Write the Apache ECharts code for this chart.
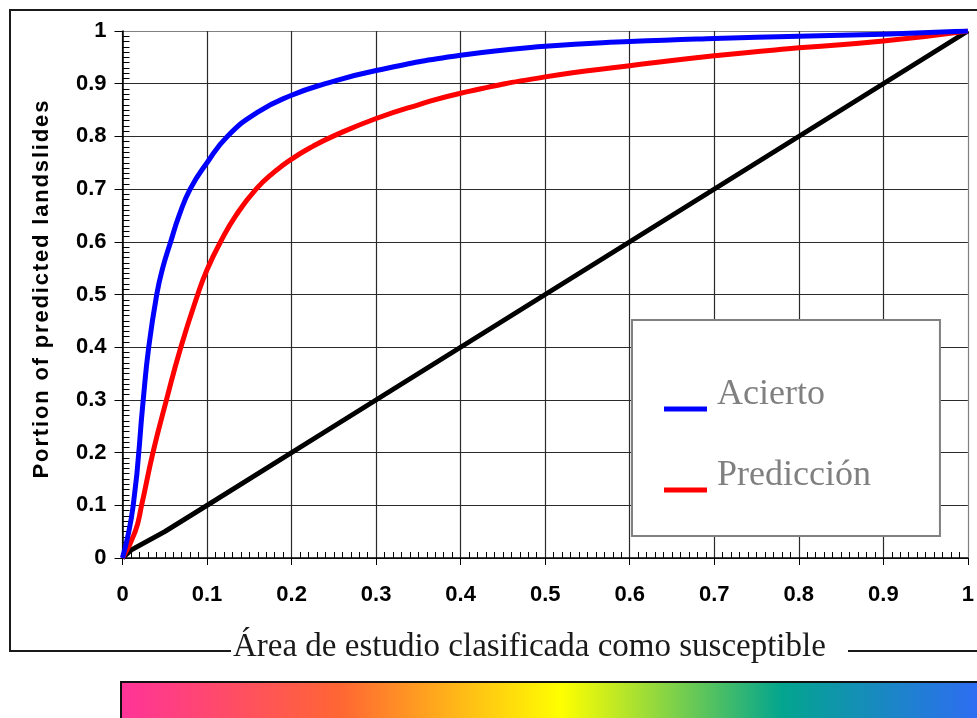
<!DOCTYPE html>
<html>
<head>
<meta charset="utf-8">
<script src="https://cdn.jsdelivr.net/npm/echarts@6/dist/echarts.min.js"></script>
<style>
  html, body { margin: 0; padding: 0; background: #fff; }
  #chart { width: 977px; height: 718px; }
</style>
</head>
<body>
<div id="chart"></div>
<script>
var myChart = echarts.init(document.getElementById('chart'));
var option;

// success curve (Acierto)
var aciertoData = [
    [0, 0], [0.0127, 0.1], [0.0245, 0.3], [0.031, 0.4], [0.0405, 0.5],
    [0.0475, 0.55], [0.057, 0.6], [0.067, 0.65], [0.08, 0.7], [0.1, 0.75],
    [0.124, 0.8], [0.16, 0.846], [0.2, 0.878], [0.24, 0.9], [0.3, 0.925],
    [0.4, 0.954], [0.5, 0.971], [0.6, 0.98], [0.7, 0.986], [0.8, 0.99],
    [0.9, 0.994], [1, 1]
];
// prediction curve (Predicción)
var prediccionData = [
    [0, 0], [0.015, 0.05], [0.0226, 0.1], [0.036, 0.2], [0.052, 0.3],
    [0.069, 0.4], [0.089, 0.5], [0.1, 0.547], [0.116, 0.6], [0.135, 0.652],
    [0.158, 0.7], [0.18, 0.733], [0.2, 0.757], [0.225, 0.781], [0.25, 0.801],
    [0.3, 0.834], [0.35, 0.86], [0.4, 0.882], [0.5, 0.913], [0.6, 0.934],
    [0.7, 0.953], [0.8, 0.968], [0.9, 0.981], [1, 1]
];
// random reference line
var diagonalData = [
    [0, 0], [0.01, 0.015], [0.05, 0.05], [0.1, 0.1], [0.25, 0.25],
    [0.5, 0.5], [0.75, 0.75], [1, 1]
];

var legendNames = ['Acierto', 'Predicción'];
var xTitle = 'Área de estudio clasificada como susceptible';
var yTitle = 'Portion of predicted landslides';

// grid lines: last one (top / right border) is grey
var splitColors = ['#2a2a2a', '#2a2a2a', '#2a2a2a', '#2a2a2a', '#2a2a2a',
    '#2a2a2a', '#2a2a2a', '#2a2a2a', '#2a2a2a', '#2a2a2a', '#808080'];

var labelStyle = {
    color: '#000',
    fontFamily: 'Liberation Sans',
    fontWeight: 'bold',
    fontSize: 22
};

option = {
    backgroundColor: '#fff',
    animation: false,
    grid: {
        left: 122.5,
        right: 4,
        top: 31,
        bottom: 160
    },
    legend: {
        data: legendNames,
        orient: 'vertical',
        left: 632,
        top: 320,
        padding: [57, 69, 42, 32],
        itemGap: 45,
        itemWidth: 48,
        itemHeight: 33,
        // line sits low in the icon box, like the original key
        icon: 'path://M0,0 M48,0 M0,28 L43,28 L43,33 L0,33 Z',
        backgroundColor: '#fff',
        borderColor: '#808080',
        borderWidth: 2,
        borderRadius: 0,
        textStyle: {
            color: '#808080',
            fontFamily: 'Liberation Serif',
            fontSize: 36
        }
    },
    xAxis: [
        {
            type: 'value',
            position: 'bottom',
            min: 0,
            max: 1,
            interval: 0.1,
            axisLine: { show: true, onZero: false, lineStyle: { color: '#000', width: 1.5 } },
            axisTick: { show: true, inside: false, length: 7, lineStyle: { color: '#000', width: 1 } },
            axisLabel: Object.assign({ margin: 26 }, labelStyle),
            splitLine: { show: true, lineStyle: { color: splitColors, width: 1.2 } }
        },
        {
            type: 'value',
            position: 'bottom',
            min: 0,
            max: 1,
            interval: 0.1,
            axisLine: { show: false, onZero: false },
            axisTick: { show: false, inside: true },
            axisLabel: { show: false },
            splitLine: { show: false },
            minorTick: { show: true, splitNumber: 10, length: 6, lineStyle: { color: '#000', width: 1 } }
        }
    ],
    yAxis: [
        {
            type: 'value',
            position: 'left',
            min: 0,
            max: 1,
            interval: 0.1,
            name: yTitle.split('').join('\u200A'),
            nameLocation: 'middle',
            nameGap: 70,
            nameTextStyle: {
                color: '#000',
                fontFamily: 'Liberation Sans',
                fontWeight: 'bold',
                fontSize: 22,
                padding: [0, 0, 0, 10]
            },
            axisLine: { show: true, onZero: false, lineStyle: { color: '#000', width: 1.5 } },
            axisTick: { show: true, inside: false, length: 8, lineStyle: { color: '#000', width: 1 } },
            axisLabel: Object.assign({ margin: 16 }, labelStyle),
            splitLine: { show: true, lineStyle: { color: splitColors, width: 1.2 } }
        },
        {
            type: 'value',
            position: 'left',
            min: 0,
            max: 1,
            interval: 0.1,
            axisLine: { show: false, onZero: false },
            axisTick: { show: false, inside: true },
            axisLabel: { show: false },
            splitLine: { show: false },
            minorTick: { show: true, splitNumber: 10, length: 7, lineStyle: { color: '#000', width: 1 } }
        }
    ],
    series: [
        {
            name: 'Aleatorio',
            type: 'line',
            data: diagonalData,
            showSymbol: false,
            lineStyle: { color: '#000', width: 5 },
            itemStyle: { color: '#000' },
            z: 3
        },
        {
            name: 'Predicción',
            type: 'line',
            data: prediccionData,
            smooth: 0.5,
            showSymbol: false,
            lineStyle: { color: '#ff0000', width: 5 },
            itemStyle: { color: '#ff0000' },
            z: 4
        },
        {
            name: 'Acierto',
            type: 'line',
            data: aciertoData,
            smooth: 0.5,
            showSymbol: false,
            lineStyle: { color: '#0000ff', width: 5 },
            itemStyle: { color: '#0000ff' },
            z: 5
        }
    ],
    graphic: [
        // outer frame, broken where the x title sits
        {
            type: 'polyline',
            shape: { points: [[231, 651], [10, 651], [10, 10], [990, 10]] },
            style: { stroke: '#1a1a1a', lineWidth: 2, fill: null }
        },
        {
            type: 'line',
            shape: { x1: 848, y1: 651, x2: 990, y2: 651 },
            style: { stroke: '#1a1a1a', lineWidth: 2 }
        },
        {
            type: 'text',
            left: 233,
            top: 631,
            style: {
                text: xTitle,
                fill: '#1a1a1a',
                font: '33px "Liberation Serif"'
            }
        },
        // colour strip at the bottom
        {
            type: 'rect',
            shape: { x: 121, y: 682, width: 880, height: 60 },
            style: {
                stroke: '#111',
                lineWidth: 2,
                fill: new echarts.graphic.LinearGradient(0, 0, 1, 0, [
                    { offset: 0, color: '#ff3399' },
                    { offset: 0.25, color: '#ff6633' },
                    { offset: 0.5, color: '#ffff00' },
                    { offset: 0.75, color: '#03a58e' },
                    { offset: 1, color: '#3366ff' }
                ])
            }
        }
    ]
};
option && myChart.setOption(option);
</script>
</body>
</html>
